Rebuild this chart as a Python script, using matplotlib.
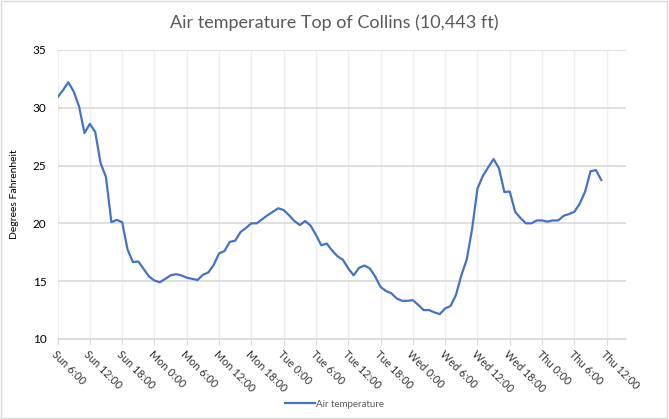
import matplotlib.pyplot as plt
from matplotlib.patches import Rectangle

plt.rcParams['font.family'] = ['Lato', 'DejaVu Sans']

# hourly readings starting Sun 6:00
hours = list(range(102))
temps = [30.9, 31.5, 32.2, 31.4, 30.1, 27.8, 28.6, 27.9, 25.2, 24.0,
         20.1, 20.3, 20.1, 17.75, 16.65, 16.7, 16.05, 15.4, 15.05, 14.9,
         15.2, 15.5, 15.6, 15.5, 15.3, 15.2, 15.1, 15.55, 15.75, 16.4,
         17.4, 17.6, 18.4, 18.5, 19.25, 19.6, 20.0, 20.0, 20.35, 20.7,
         21.0, 21.3, 21.15, 20.7, 20.2, 19.85, 20.2, 19.8, 19.0, 18.1,
         18.25, 17.65, 17.15, 16.85, 16.1, 15.5, 16.15, 16.35, 16.1, 15.4,
         14.5, 14.15, 13.95, 13.5, 13.3, 13.3, 13.35, 12.95, 12.5, 12.5,
         12.3, 12.15, 12.65, 12.85, 13.8, 15.5, 16.85, 19.5, 23.0, 24.1,
         24.85, 25.55, 24.75, 22.7, 22.75, 21.0, 20.45, 20.0, 20.0, 20.25,
         20.25, 20.15, 20.25, 20.25, 20.65, 20.8, 21.0, 21.7, 22.75, 24.5,
         24.6, 23.75]

tick_hours = list(range(0, 103, 6))
tick_labels = ['Sun 6:00', 'Sun 12:00', 'Sun 18:00', 'Mon 0:00', 'Mon 6:00',
               'Mon 12:00', 'Mon 18:00', 'Tue 0:00', 'Tue 6:00', 'Tue 12:00',
               'Tue 18:00', 'Wed 0:00', 'Wed 6:00', 'Wed 12:00', 'Wed 18:00',
               'Thu 0:00', 'Thu 6:00', 'Thu 12:00']

fig = plt.figure(figsize=(6.69, 4.19), dpi=100)
fig.patches.append(Rectangle((0.002, 0.003), 0.995, 0.994, transform=fig.transFigure,
                             fill=False, edgecolor='#d9d9d9', linewidth=1))
ax = fig.add_axes([0.086, 0.191, 0.849, 0.690])

ax.plot(hours, temps, color='#4472C4', linewidth=1.6, label='Air temperature')

ax.set_xlim(0, 105.5)
ax.set_ylim(10, 35)
ax.set_yticks([10, 15, 20, 25, 30, 35])
ax.set_xticks(tick_hours)
ax.set_xticklabels(tick_labels, rotation=-45, ha='left', va='top',
                   rotation_mode='anchor')
ax.tick_params(axis='x', length=4, color='#d9d9d9', labelsize=7.8,
               labelcolor='#333333', pad=3)
ax.tick_params(axis='y', length=0, labelsize=8.5, labelcolor='#000000', pad=8)

ax.grid(axis='y', color='#d9d9d9', linewidth=1.2)
ax.grid(axis='x', color='#efefef', linewidth=1)
ax.set_axisbelow(True)
for s in ['top', 'right', 'left']:
    ax.spines[s].set_visible(False)
ax.spines['bottom'].set_color('#d9d9d9')
ax.spines['bottom'].set_linewidth(1.2)

ax.set_ylabel('Degrees Fahrenheit', fontsize=7.5, color='#000000', labelpad=10)
fig.text(0.5, 0.945, 'Air temperature Top of Collins (10,443 ft)', ha='center',
         va='center', fontsize=13, color='#595959')

fig.legend(loc='center', bbox_to_anchor=(0.5, 0.035), frameon=False, fontsize=7,
           handlelength=3.0, handletextpad=0.1, labelcolor='#595959')

fig.savefig('out.png', dpi=100)
